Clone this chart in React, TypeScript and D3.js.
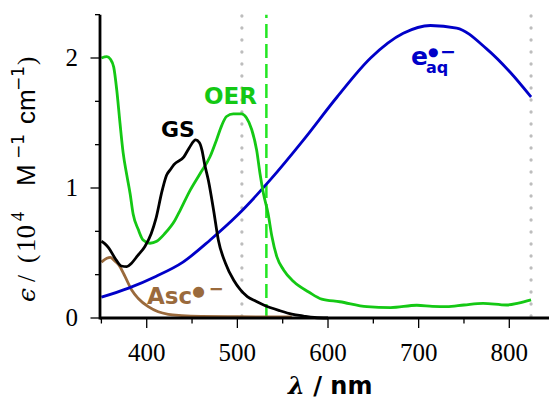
import React from "react";
import * as d3 from "d3";

// Ground state (GS)
const gsWl = [350, 354, 358, 365, 372, 378, 383, 390, 398, 405, 410, 417, 422, 426, 430, 441, 447, 454, 458, 461, 464, 468, 474, 479, 487, 496, 503, 511, 520, 529, 547, 560, 573, 585, 600];
const gsEps = [0.59, 0.57, 0.54, 0.46, 0.40, 0.395, 0.42, 0.48, 0.55, 0.65, 0.76, 0.98, 1.10, 1.14, 1.18, 1.24, 1.31, 1.37, 1.35, 1.29, 1.18, 1.06, 0.82, 0.60, 0.42, 0.29, 0.22, 0.165, 0.13, 0.10, 0.056, 0.03, 0.015, 0.004, 0.0];

// OER
const oerWl = [350, 356, 360, 363.6, 367, 370.5, 374, 378, 381.6, 385, 390.7, 396, 403.6, 411, 420, 431, 437, 447.7, 458.8, 469.8, 477, 482.7, 488, 495.5, 504.6, 510, 515.8, 521.3, 525, 528.7, 534, 538, 543.6, 551, 562, 578.7, 593, 613, 643, 669, 698, 715, 731, 750, 771, 797, 810, 824];
const oerEps = [2.0, 2.01, 1.99, 1.93, 1.75, 1.5, 1.27, 1.10, 0.96, 0.80, 0.68, 0.60, 0.575, 0.59, 0.65, 0.75, 0.83, 0.98, 1.11, 1.24, 1.37, 1.48, 1.55, 1.57, 1.57, 1.54, 1.45, 1.29, 1.11, 0.96, 0.80, 0.63, 0.47, 0.37, 0.28, 0.20, 0.145, 0.125, 0.087, 0.08, 0.098, 0.09, 0.087, 0.1, 0.113, 0.10, 0.115, 0.14];

// Hydrated electron
const eaqWl = [350, 380, 410, 440, 470, 500, 536, 573, 610, 647, 683, 713, 742, 775, 801, 824];
const eaqEps = [0.16, 0.23, 0.32, 0.43, 0.60, 0.79, 1.06, 1.37, 1.70, 2.0, 2.19, 2.25, 2.23, 2.07, 1.89, 1.70];

// Ascorbyl radical
const ascWl = [350, 356, 360, 363, 369, 376, 383.4, 390.7, 401.7, 412.7, 423.8, 438.6, 460, 500, 560];
const ascEps = [0.43, 0.46, 0.467, 0.45, 0.41, 0.32, 0.215, 0.15, 0.087, 0.048, 0.028, 0.018, 0.012, 0.01, 0.008];

const xMajor = [400, 500, 600, 700, 800];
const xMinor = [350, 450, 550, 650, 750];
const yMajor = [0, 1, 2];
const yMinor = [1 / 3, 2 / 3, 4 / 3, 5 / 3, 7 / 3];
const dottedWl = [505, 824];
const laserWl = 532;

const GREEN = "#14c814";
const LASER = "#22e622";
const BLUE = "#0000c8";
const BROWN = "#9a6a3c";
const SERIF = "'Liberation Serif', 'DejaVu Serif', serif";
const SANS = "'DejaVu Sans', sans-serif";
const LSANS = "'Liberation Sans', 'DejaVu Sans', sans-serif";

export default function App() {
  const W = 549, H = 401;
  const x = d3.scaleLinear().domain([350, 800]).range([101.4, 509.3]);
  const y = d3.scaleLinear().domain([0, 2]).range([318, 58]);
  const axX = 100;
  const yTop = y(7 / 3);
  const line = (wl: number[], ep: number[]) =>
    d3.line<number>().x((_, i) => x(wl[i])).y((_, i) => y(ep[i])).curve(d3.curveMonotoneX)(wl.map((_, i) => i)) || "";
  const LW = 2.8;

  return (
    <svg width={W} height={H} style={{ position: "absolute", left: 0, top: 0, background: "#fff" }}>
      {/* reference lines */}
      {dottedWl.map((w) => (
        <line key={w} x1={x(w)} x2={x(w)} y1={y(0) - 2} y2={yTop} stroke="#bdbdbd" strokeWidth={3.3}
          strokeDasharray="0 12" strokeLinecap="round" />
      ))}
      <line x1={x(laserWl)} x2={x(laserWl)} y1={y(0)} y2={yTop} stroke={LASER} strokeWidth={2.5} strokeDasharray="14 6" />

      {/* curves */}
      <path d={line(ascWl, ascEps)} fill="none" stroke={BROWN} strokeWidth={LW} />
      <path d={line(eaqWl, eaqEps)} fill="none" stroke={BLUE} strokeWidth={LW} />
      <path d={line(oerWl, oerEps)} fill="none" stroke={GREEN} strokeWidth={LW} />
      <path d={line(gsWl, gsEps)} fill="none" stroke="#000" strokeWidth={LW} />

      {/* axes */}
      <line x1={axX} x2={W} y1={y(0)} y2={y(0)} stroke="#000" strokeWidth={2.8} />
      <line x1={axX} x2={axX} y1={y(0) + 1.4} y2={yTop} stroke="#000" strokeWidth={2.8} />
      {xMajor.map((v) => (
        <g key={"xm" + v}>
          <line x1={x(v)} x2={x(v)} y1={y(0)} y2={y(0) + 10} stroke="#000" strokeWidth={1.3} />
          <text x={x(v)} y={361} textAnchor="middle" fontFamily={SERIF} fontSize={25}>{v}</text>
        </g>
      ))}
      {xMinor.map((v) => (
        <line key={"xn" + v} x1={x(v)} x2={x(v)} y1={y(0)} y2={y(0) + 5.5} stroke="#000" strokeWidth={1.3} />
      ))}
      {yMajor.map((v) => (
        <g key={"ym" + v}>
          <line x1={axX} x2={axX - 9.5} y1={y(v)} y2={y(v)} stroke="#000" strokeWidth={1.3} />
          <text x={78} y={y(v)} dy="0.33em" textAnchor="end" fontFamily={SERIF} fontSize={25}>{v}</text>
        </g>
      ))}
      {yMinor.map((v, i) => (
        <line key={"yn" + i} x1={axX} x2={axX - 5} y1={y(v)} y2={y(v)} stroke="#000" strokeWidth={1.3} />
      ))}

      {/* axis titles */}
      <text x={288} y={394} fontSize={24} fontWeight="bold">
        <tspan fontFamily="'DejaVu Serif', serif" fontStyle="italic">λ</tspan>
        <tspan fontFamily={SANS}> / nm</tspan>
      </text>
      <text transform="translate(35,0) rotate(-90)" fontSize={25}>
        <tspan x={-302} y={0} fontFamily="'DejaVu Serif', serif" fontStyle="italic">ϵ</tspan>
        <tspan x={-282} y={0} fontFamily={SERIF}>/</tspan>
        <tspan x={-263} y={0} fontFamily={SERIF}>(</tspan>
        <tspan x={-252} y={0} fontFamily={SERIF} fontSize={27}>10</tspan>
        <tspan x={-221} y={-11} fontFamily={SERIF} fontSize={18}>4</tspan>
        <tspan x={-186} y={0} fontFamily={LSANS} fontSize={26}>M</tspan>
        <tspan x={-159} y={-11} fontFamily={SANS} fontSize={17}>−1</tspan>
        <tspan x={-124} y={0} fontFamily={LSANS} fontSize={26}>cm</tspan>
        <tspan x={-91} y={-11} fontFamily={SANS} fontSize={17}>−1</tspan>
        <tspan x={-65} y={0} fontFamily={SERIF}>)</tspan>
      </text>

      {/* series labels */}
      <text x={161} y={136.5} fontFamily={SANS} fontWeight="bold" fontSize={22} fill="#000">GS</text>
      <text x={204} y={104} fontFamily={SANS} fontWeight="bold" fontSize={23} fill={GREEN}>OER</text>
      <text fontFamily={SANS} fontWeight="bold" fill={BLUE}>
        <tspan x={411} y={65} fontSize={25}>e</tspan>
        <tspan x={428} y={55.5} fontSize={12}>●</tspan>
        <tspan x={440} y={57.5} fontSize={19}>−</tspan>
        <tspan x={426} y={73} fontSize={16}>aq</tspan>
      </text>
      <text x={147} y={304} fontFamily={SANS} fontWeight="bold" fontSize={23} fill={BROWN}>
        Asc
        <tspan fontSize={14.5} dy={-8.5} dx={0}>●</tspan>
        <tspan fontSize={18} dy={-1} dx={4}>−</tspan>
      </text>
    </svg>
  );
}
